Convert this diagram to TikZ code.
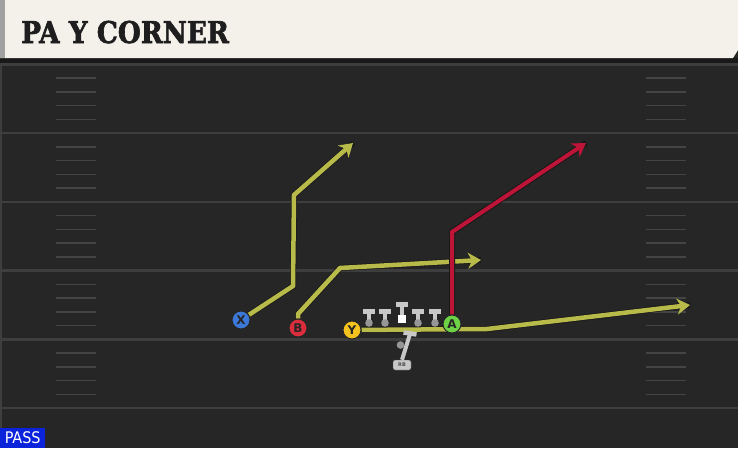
\documentclass[tikz,border=0pt]{standalone}
\usepackage{fontspec}
\setsansfont{DejaVu Sans}
\newfontfamily\titlefont[FakeStretch=0.88,BoldFont={DejaVu Serif Bold},BoldFeatures={FakeBold=2}]{DejaVu Serif}
\newfontfamily\tagfont{DejaVu Sans Condensed}
\usetikzlibrary{arrows.meta}
\pgfdeclarelayer{field}
\pgfdeclarelayer{routes}
\pgfsetlayers{field,routes,main}
\definecolor{cream}{RGB}{244,241,234}
\definecolor{titlegray}{RGB}{30,30,30}
\definecolor{stripgray}{RGB}{160,160,160}
\definecolor{fieldbg}{RGB}{38,38,38}
\definecolor{yardgray}{RGB}{62,62,62}
\definecolor{hashgray}{RGB}{68,68,68}
\definecolor{routeyel}{RGB}{184,186,74}
\definecolor{routered}{RGB}{190,20,55}
\definecolor{xblue}{RGB}{60,120,215}
\definecolor{bred}{RGB}{220,45,60}
\definecolor{yyel}{RGB}{245,195,30}
\definecolor{agreen}{RGB}{110,210,70}
\definecolor{linegray}{RGB}{200,200,200}
\definecolor{dotgray}{RGB}{150,150,150}
\definecolor{passblue}{RGB}{12,35,220}
\tikzset{
  player/.style={circle,draw=black!85,line width=1pt,minimum size=18pt,inner sep=0pt,
    font=\sffamily\bfseries\fontsize{12}{12}\selectfont,text=black!85},
  route/.style={line width=4.5pt,draw=routeyel,preaction={draw=black!90,line width=6pt,arrows=-},
    -{Stealth[length=13pt,width=16pt,inset=4pt]}},
  hotroute/.style={route,line width=4pt,draw=routered,preaction={draw=black!90,line width=5pt,arrows=-}},
  yard/.style={draw=yardgray,line width=2.5pt},
  hash/.style={draw=hashgray,line width=1.5pt},
  rbbox/.style={draw=black!70,fill=linegray,rounded corners=2pt,minimum width=18pt,
    minimum height=10pt,inner sep=0pt,font=\sffamily\bfseries\fontsize{5}{5}\selectfont,text=black!70}
}

\begin{document}
\begin{tikzpicture}[x=1pt,y=-1pt]
\useasboundingbox (0,0) rectangle (738,448);
\begin{pgfonlayer}{field}
%field and header
\fill[fieldbg] (0,0) rectangle (738,448);
\fill[black!90] (0,58) rectangle (738,64);
\fill[cream] (0,0) -- (738,0) -- (738,50) -- (733,58) -- (0,58) -- cycle;
\fill[stripgray] (0,0) rectangle (5,58);
\draw[yardgray,line width=2pt] (1,64) -- (1,448);
%yard lines
\foreach \i in {0,...,5}
\draw[yard] (0,64.5+68.7*\i) -- (738,64.5+68.7*\i);
%hash marks
\foreach \i in {0,...,4}
\foreach \j in {1,...,4}{
  \draw[hash] (56,{64.5+68.7*\i+13.74*\j}) -- (96,{64.5+68.7*\i+13.74*\j});
  \draw[hash] (646,{64.5+68.7*\i+13.74*\j}) -- (686,{64.5+68.7*\i+13.74*\j});
}
\end{pgfonlayer}
\node[anchor=base west,inner sep=0pt,text=titlegray,
  font=\titlefont\bfseries\fontsize{30}{30}\selectfont] (title) at (21,43) {PA Y CORNER};
%players
\node[player,fill=xblue] (x) at (241,320) {X};
\node[player,fill=bred] (b) at (298,328) {B};
\node[player,fill=yyel] (y) at (352,330) {Y};
\node[player,fill=agreen] (a) at (452,324) {A};
%line
\foreach \px in {369,385,418,435}{
  \fill[linegray] (\px-6,309) rectangle (\px+6,313.5);
  \fill[linegray] (\px-2,313) rectangle (\px+2,322);
  \fill[dotgray] (\px,323) circle (3.8);
}
\fill[linegray] (395.5,302) rectangle (407.5,306.5);
\fill[linegray] (399.7,306) rectangle (403.7,315);
\fill[white] (397.7,314.7) rectangle (405.7,322.7);
%running back
\node[rbbox] (rb) at (402,365) {RB};
\coordinate (rbtop) at (410,334);
\draw[linegray,line width=4pt] (rb.north) -- (rbtop);
\draw[linegray,line width=4.5pt] (403.5,332.5) -- (416.5,334.5);
\fill[dotgray] (400.5,345) circle (3.8);
%routes
\coordinate (x1) at (293,286);
\coordinate (x2) at (294,195);
\coordinate (x3) at (353,143);
\coordinate (b1) at (298,314);
\coordinate (b2) at (340,268);
\coordinate (b3) at (481,260);
\coordinate (y1) at (487,329);
\coordinate (y2) at (690,305);
\coordinate (a1) at (452,232);
\coordinate (a2) at (586,143);
\begin{pgfonlayer}{routes}
\draw[route] (x) -- (x1) -- (x2) -- (x3);
\draw[route] (b) -- (b1) -- (b2) -- (b3);
\draw[route] (y) -- (y1) -- (y2);
\draw[hotroute] (a) -- (a1) -- (a2);
\end{pgfonlayer}
%play type
\node[anchor=south west,fill=passblue,text=white,minimum width=45pt,minimum height=20pt,
  inner sep=0pt,font=\tagfont\fontsize{16}{16}\selectfont] (tag) at (0,448) {PASS};
\end{tikzpicture}
\end{document}
